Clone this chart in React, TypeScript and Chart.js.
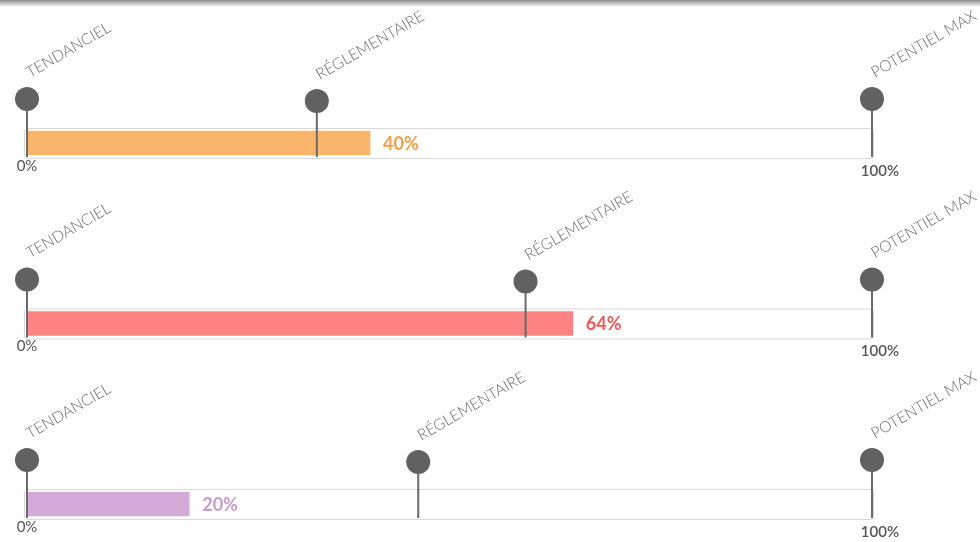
import React, { useEffect, useRef } from "react";
import { Chart, registerables } from "chart.js";

Chart.register(...registerables);

// ---- data ----
const rows = ["Scénario 1", "Scénario 2", "Scénario 3"];
const barValues = [40.6, 64.6, 19.2];
const valueLabels = ["40%", "64%", "20%"];
const tendancielValues = [0, 0, 0];
const reglementaireValues = [34.3, 59.0, 46.3];
const potentielValues = [100, 100, 100];
const pinNames = ["TENDANCIEL", "RÉGLEMENTAIRE", "POTENTIEL MAX"];
const scaleTickLabels = ["0%", "100%"];
const barColors = ["#fbb46c", "#ff8282", "#d4aad9"];
const valueLabelColors = ["#f5a043", "#ee5a5a", "#c79bd1"];

const FONT = "Lato, 'Open Sans', sans-serif";

const overlayPlugin = {
  id: "gaugeOverlay",
  beforeDatasetsDraw(chart: any) {
    const { ctx, scales } = chart;
    const x = scales.x;
    const y = scales.y;
    const x0 = x.getPixelForValue(0) - 3;
    const x1 = x.getPixelForValue(100) + 1;
    ctx.save();
    rows.forEach((_, i) => {
      const cy = y.getPixelForValue(i);
      ctx.beginPath();
      ctx.roundRect(x0 + 0.5, cy - 15 + 0.5, x1 - x0, 30, 3);
      ctx.fillStyle = "#ffffff";
      ctx.fill();
      ctx.strokeStyle = "#d8d8d8";
      ctx.lineWidth = 1;
      ctx.stroke();
    });
    ctx.restore();
  },
  afterDatasetsDraw(chart: any) {
    const { ctx, scales } = chart;
    const x = scales.x;
    const y = scales.y;
    ctx.save();
    rows.forEach((_, i) => {
      const cy = y.getPixelForValue(i);
      const pins = [tendancielValues[i], reglementaireValues[i], potentielValues[i]];
      pins.forEach((v, k) => {
        const px = x.getPixelForValue(v);
        const top = cy - (k === 1 ? 42 : 44);
        // stem
        ctx.beginPath();
        ctx.moveTo(px, top);
        ctx.lineTo(px, cy + 14);
        ctx.strokeStyle = "#6a6a6a";
        ctx.lineWidth = 2;
        ctx.stroke();
        // head
        ctx.beginPath();
        ctx.arc(px, top, 12, 0, Math.PI * 2);
        ctx.fillStyle = "#616161";
        ctx.fill();
        // rotated label
        ctx.save();
        ctx.translate(px + 3, top - 21);
        ctx.rotate((-30 * Math.PI) / 180);
        ctx.font = `300 15.5px ${FONT}`;
        ctx.fillStyle = "#6b6b6b";
        ctx.textAlign = "left";
        ctx.textBaseline = "alphabetic";
        ctx.fillText(pinNames[k], 0, 0);
        ctx.restore();
      });
      // value label
      const bx = x.getPixelForValue(barValues[i]);
      ctx.font = `bold 18px ${FONT}`;
      ctx.fillStyle = valueLabelColors[i];
      ctx.textAlign = "left";
      ctx.textBaseline = "middle";
      ctx.fillText(valueLabels[i], bx + 13, cy + 1);
      // scale ticks
      ctx.font = `15px ${FONT}`;
      ctx.fillStyle = "#555555";
      ctx.textAlign = "center";
      ctx.textBaseline = "middle";
      ctx.fillText(scaleTickLabels[0], x.getPixelForValue(0), cy + 23);
      ctx.font = `600 15px ${FONT}`;
      ctx.fillText(scaleTickLabels[1], x.getPixelForValue(100) + 8, cy + 28);
    });
    ctx.restore();
  },
};

export default function App() {
  const ref = useRef<HTMLCanvasElement | null>(null);
  useEffect(() => {
    document.body.style.margin = "0";
    if (!ref.current) return;
    const chart = new Chart(ref.current, {
      type: "bar",
      data: {
        labels: rows,
        datasets: [
          {
            data: barValues,
            backgroundColor: barColors,
            barThickness: 24,
            clip: false as any,
          },
        ],
      },
      options: {
        indexAxis: "y",
        responsive: false,
        animation: false,
        devicePixelRatio: 1,
        layout: { padding: { left: 27, right: 108, top: 143, bottom: 38 } },
        plugins: { legend: { display: false }, tooltip: { enabled: false } },
        scales: {
          x: { min: 0, max: 100, display: false },
          y: { display: false, offset: false },
        },
      },
      plugins: [overlayPlugin],
    });
    return () => chart.destroy();
  }, []);
  return (
    <div style={{ position: "relative", width: 980, height: 542, background: "#fff" }}>
      <div
        style={{
          position: "absolute",
          left: 0,
          top: 0,
          width: 980,
          height: 7,
          background: "linear-gradient(#8a8a8a, #ffffff)",
        }}
      />
      <canvas ref={ref} width={980} height={542} style={{ display: "block" }} />
    </div>
  );
}
